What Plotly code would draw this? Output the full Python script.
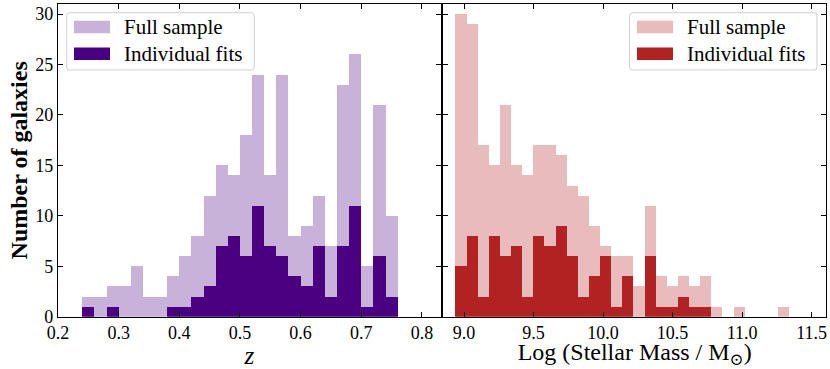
import numpy as np
import plotly.graph_objects as go

# redshift histogram: bin edges and counts per bin
z_edges = [0.24, 0.26, 0.28, 0.30, 0.32, 0.34, 0.36, 0.38, 0.40, 0.42, 0.44, 0.46, 0.48,
           0.50, 0.52, 0.54, 0.56, 0.58, 0.60, 0.62, 0.64, 0.66, 0.68, 0.70, 0.72, 0.74, 0.76]
z_full = [2, 2, 3, 3, 5, 2, 2, 4, 6, 8, 12, 15, 14, 18, 24, 14, 24, 8, 9, 12, 7, 23, 26, 5, 21, 10]
z_fits = [1, 0, 1, 0, 0, 0, 0, 1, 1, 2, 3, 7, 8, 6, 11, 7, 6, 4, 3, 7, 2, 7, 11, 1, 6, 2]

# stellar mass histogram
m_edges = [8.94, 9.02, 9.10, 9.18, 9.26, 9.34, 9.42, 9.50, 9.58, 9.66, 9.74, 9.82, 9.90, 9.98,
           10.06, 10.14, 10.22, 10.30, 10.38, 10.46, 10.54, 10.62, 10.70, 10.78, 10.86, 10.94,
           11.02, 11.10, 11.18, 11.26, 11.34]
m_full = [30, 29, 17, 15, 21, 15, 14, 17, 17, 16, 13, 12, 9, 7, 6, 6, 3, 11, 4, 3, 4, 3, 4, 1,
          0, 1, 0, 0, 0, 1]
m_fits = [5, 8, 2, 8, 6, 7, 2, 8, 7, 9, 6, 2, 4, 6, 1, 4, 0, 6, 1, 1, 2, 1, 1, 0, 0, 0, 0, 0, 0, 0]

legend_labels = ["Full sample", "Individual fits"]

W, H = 830, 369
FONT = "Liberation Serif, Times New Roman, DejaVu Serif, serif"

PURPLE_LIGHT = "rgba(75,0,130,0.3)"
PURPLE_DARK = "#4b0082"
RED_LIGHT = "rgba(178,34,34,0.3)"
RED_DARK = "#b22222"


def px(x):
    return x / W


def py(y):
    return 1 - y / H


def histBars(edges, counts, color, xaxis, yaxis):
    edges = np.array(edges)
    return go.Bar(x=edges[:-1], y=counts, width=np.diff(edges), offset=0,
                  marker=dict(color=color, line=dict(width=0)),
                  xaxis=xaxis, yaxis=yaxis, showlegend=False, hoverinfo="skip")


def roundBox(x0, y0, x1, y1, r=3):
    # rounded rectangle path in paper coordinates, given pixel corners
    rx, ry = r / W, r / H
    a, b, c, d = px(x0), py(y1), px(x1), py(y0)
    return (f"M{a+rx},{b} L{c-rx},{b} Q{c},{b} {c},{b+ry} L{c},{d-ry} Q{c},{d} {c-rx},{d} "
            f"L{a+rx},{d} Q{a},{d} {a},{d-ry} L{a},{b+ry} Q{a},{b} {a+rx},{b} Z")


def legendItems(box, swatch_x, text_x, colors):
    shapes = [dict(type="path", path=roundBox(*box), xref="paper", yref="paper",
                   fillcolor="rgba(255,255,255,0.8)", line=dict(color="#d0d0d0", width=1))]
    annots = []
    rows = [27, 53.7]
    for yc, col, lab in zip(rows, colors, legend_labels):
        shapes.append(dict(type="rect", xref="paper", yref="paper",
                           x0=px(swatch_x), x1=px(swatch_x + 36),
                           y0=py(yc + 6.3), y1=py(yc - 6.3),
                           fillcolor=col, line=dict(width=0)))
        annots.append(dict(x=px(text_x), y=py(yc), xref="paper", yref="paper",
                           text=lab, showarrow=False, xanchor="left", yanchor="middle",
                           font=dict(family=FONT, size=21, color="black")))
    return shapes, annots


traces = [
    histBars(z_edges, z_full, PURPLE_LIGHT, "x", "y"),
    histBars(z_edges, z_fits, PURPLE_DARK, "x", "y"),
    histBars(m_edges, m_full, RED_LIGHT, "x2", "y2"),
    histBars(m_edges, m_fits, RED_DARK, "x2", "y2"),
]

axis_style = dict(showline=True, linecolor="black", linewidth=1.3, mirror="ticks",
                  ticks="inside", ticklen=5, tickwidth=1.1, tickcolor="black",
                  showgrid=False, zeroline=False, automargin=False,
                  tickfont=dict(family=FONT, size=18, color="black"))

fig = go.Figure(data=traces)

s1, a1 = legendItems((66.7, 12.7, 254.3, 70), 74, 122, [PURPLE_LIGHT, PURPLE_DARK])
s2, a2 = legendItems((629.5, 12.7, 817, 70), 637, 685, [RED_LIGHT, RED_DARK])

fig.update_layout(
    width=W, height=H, autosize=False,
    margin=dict(l=0, r=0, t=0, b=0),
    paper_bgcolor="white", plot_bgcolor="white",
    barmode="overlay", bargap=0,
    xaxis=dict(domain=[px(58), px(440.7)], range=[0.2, 0.831], dtick=0.1, tick0=0.2,
               tickformat=".1f", anchor="y",
               title=dict(text="<i>z</i>", standoff=4,
                          font=dict(family=FONT, size=25, color="black")),
               **axis_style),
    xaxis2=dict(domain=[px(443.3), px(826)], range=[8.851, 11.603], dtick=0.5, tick0=9.0,
                tickformat=".1f", anchor="y2",
                title=dict(text="Log (Stellar Mass / M<sub>⊙</sub>)", standoff=8,
                           font=dict(family=FONT, size=24, color="black")),
                **axis_style),
    yaxis=dict(domain=[py(316.7), py(4)], range=[0, 31], dtick=5, anchor="x",
               title=dict(text="<b>Number of galaxies</b>", standoff=0,
                          font=dict(family=FONT, size=24, color="black")),
               **axis_style),
    yaxis2=dict(domain=[py(316.7), py(4)], range=[0, 31], dtick=5, anchor="x2",
                showticklabels=False, **axis_style),
    shapes=s1 + s2,
    annotations=a1 + a2,
)

# drop the page's default body margin so the figure sits at the window corner
fig.write_html("out.html", config={"displayModeBar": False},
               post_script="document.body.style.margin='0';")
